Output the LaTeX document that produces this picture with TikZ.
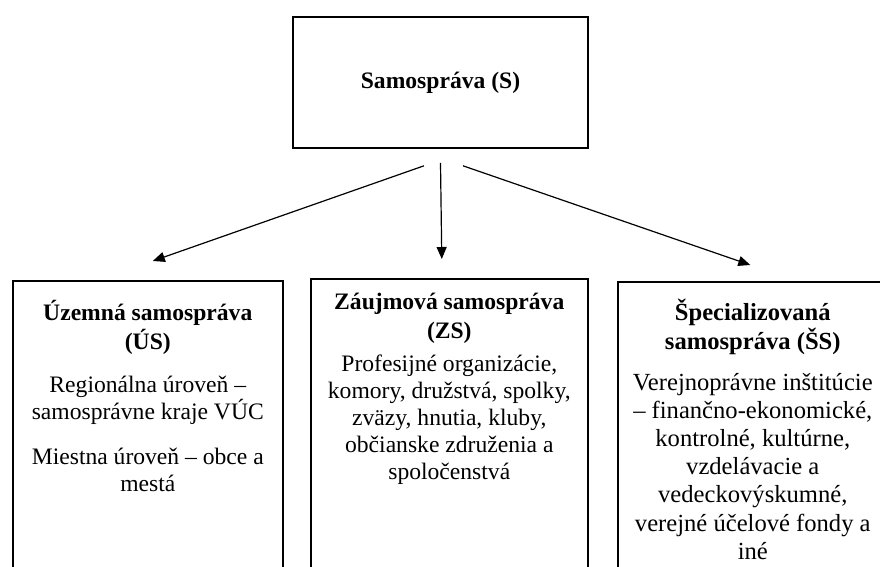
\documentclass[tikz,border=0pt]{standalone}
\usepackage{fontspec}
\setmainfont{Liberation Serif}
\usetikzlibrary{arrows.meta,positioning,calc}

\tikzset{
  frame/.style={draw, line width=0.8pt, inner sep=0pt},
  txt/.style={align=center, inner sep=0pt, font={\fontsize{11.8}{13.5}\selectfont}},
  arr/.style={-{Triangle[length=6pt,width=5pt]}, line width=0.6pt}
}

\begin{document}
\begin{tikzpicture}[x=0.5pt,y=-0.5pt]

  % Parameters (pixels of the page)
  \def\pw{880}
  \def\ph{567}

  % Page
  \clip (0,0) rectangle (\pw,\ph);

  % Top box
  \node[frame, minimum width=147.5pt, minimum height=65.5pt,
        font={\fontsize{11.8}{13.5}\selectfont\bfseries}] (S) at (440.5,82.5) {Samospráva (S)};

  % Bottom boxes (cut off by the page)
  \node[frame, anchor=north west, minimum width=135pt, minimum height=170pt] (us) at (12,280) {};
  \node[frame, anchor=north west, minimum width=138.5pt, minimum height=170pt] (zs) at (310,278) {};
  \node[frame, anchor=north west, minimum width=135pt, minimum height=170pt] (ss) at (617,281) {};

  % Texts
  \node[txt, below=10pt of us.north] (ustxt) {\textbf{Územná samospráva}\\[1pt]\textbf{(ÚS)}\\[8pt]
    Regionálna úroveň –\\samosprávne kraje VÚC\\[9pt]Miestna úroveň – obce a\\mestá};
  \node[txt, below=7.5pt of zs.north] (zstxt) {\textbf{Záujmová samospráva}\\[1pt]\textbf{(ZS)}\\[3pt]
    Profesijné organizácie,\\komory, družstvá, spolky,\\zväzy, hnutia, kluby,\\občianske združenia a\\spoločenstvá};
  \node[txt, font={\fontsize{12.3}{14.1}\selectfont}, below=9pt of ss.north] (sstxt)
    {\textbf{Špecializovaná}\\[0.5pt]\textbf{samospráva (ŠS)}\\[6pt]
    Verejnoprávne inštitúcie\\– finančno-ekonomické,\\kontrolné, kultúrne,\\vzdelávacie a\\vedeckovýskumné,\\verejné účelové fondy a\\iné};

  % Arrows
  \draw[arr] ($(S.south)+(-16.5,17)$) -- ($(us.north)+(5,-19)$);
  \draw[arr] ($(S.south)+(0,14)$) -- ($(zs.north)+(-7.5,-19)$);
  \draw[arr] ($(S.south)+(22.5,17)$) -- ($(ss.north)+(-2.5,-16)$);

\end{tikzpicture}
\end{document}
